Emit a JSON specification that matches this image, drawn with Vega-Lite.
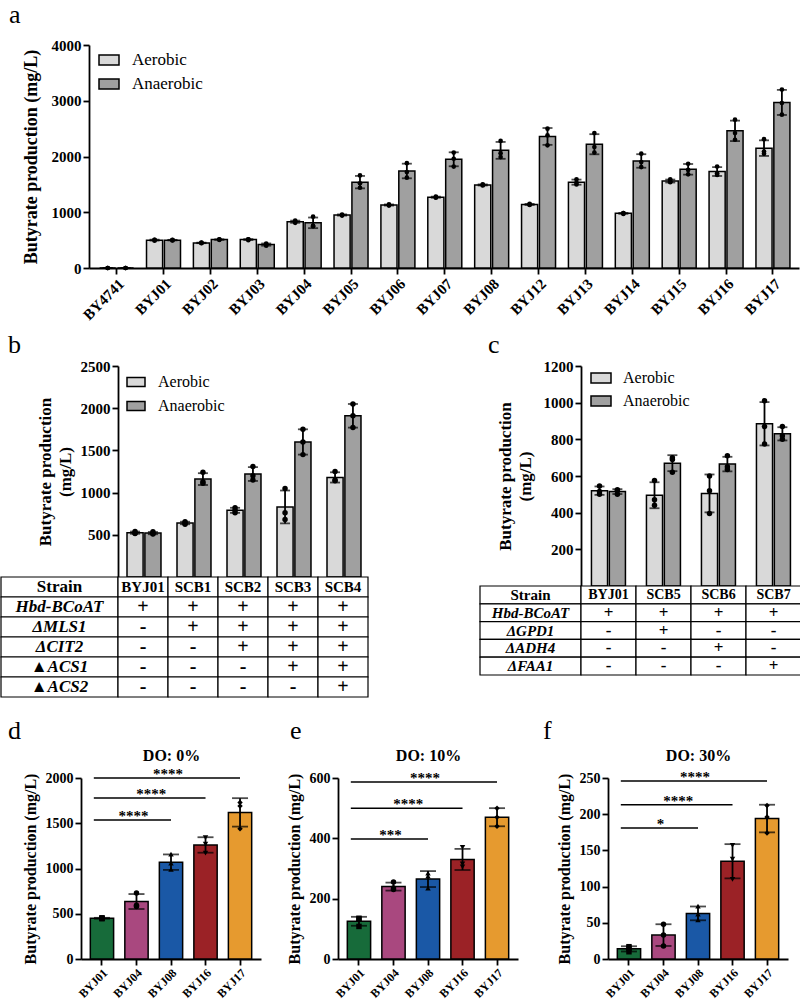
{
  "$schema": "https://vega.github.io/schema/vega-lite/v6.json",
  "background": "white",
  "padding": {"left": 0, "top": 2, "right": 0, "bottom": 0},
  "spacing": 9,
  "resolve": {"scale": {"color": "independent", "shape": "independent"}},
  "config": {
    "font": "Liberation Serif",
    "view": {"stroke": null},
    "axis": {"grid": false, "domainColor": "black", "domainWidth": 1.8, "tickColor": "black", "tickWidth": 1.8, "tickSize": 6, "labelFont": "Liberation Serif", "labelFontWeight": "bold", "labelColor": "black", "labelFontSize": 15, "labelPadding": 2, "titleFont": "Liberation Serif", "titleFontWeight": "bold", "titleColor": "black", "titleFontSize": 17},
    "axisQuantitative": {"format": "d"},
    "legend": {"orient": "none", "symbolType": "M-1,-0.5H1V0.5H-1Z", "symbolStrokeColor": "black", "symbolStrokeWidth": 1.5, "labelFont": "Liberation Serif", "labelColor": "black", "labelFontWeight": "normal", "padding": 0},
    "title": {"font": "Liberation Serif", "fontWeight": "normal", "fontSize": 26, "color": "black", "anchor": "start", "frame": "group"}
  },
  "datasets": {
    "rep": [
      {"p":"a","s":"BY4741","c":"Aerobic","r1":0,"r2":0,"r3":0},
      {"p":"a","s":"BYJ01","c":"Aerobic","r1":490,"r2":505,"r3":505},
      {"p":"a","s":"BYJ02","c":"Aerobic","r1":445,"r2":450,"r3":455},
      {"p":"a","s":"BYJ03","c":"Aerobic","r1":500,"r2":515,"r3":515},
      {"p":"a","s":"BYJ04","c":"Aerobic","r1":810,"r2":830,"r3":850},
      {"p":"a","s":"BYJ05","c":"Aerobic","r1":940,"r2":950,"r3":960},
      {"p":"a","s":"BYJ06","c":"Aerobic","r1":1120,"r2":1130,"r3":1140},
      {"p":"a","s":"BYJ07","c":"Aerobic","r1":1260,"r2":1270,"r3":1280},
      {"p":"a","s":"BYJ08","c":"Aerobic","r1":1480,"r2":1490,"r3":1500},
      {"p":"a","s":"BYJ12","c":"Aerobic","r1":1130,"r2":1140,"r3":1150},
      {"p":"a","s":"BYJ13","c":"Aerobic","r1":1590,"r2":1530,"r3":1500},
      {"p":"a","s":"BYJ14","c":"Aerobic","r1":970,"r2":985,"r3":985},
      {"p":"a","s":"BYJ15","c":"Aerobic","r1":1590,"r2":1550,"r3":1540},
      {"p":"a","s":"BYJ16","c":"Aerobic","r1":1820,"r2":1700,"r3":1670},
      {"p":"a","s":"BYJ17","c":"Aerobic","r1":2310,"r2":2090,"r3":2050},
      {"p":"a","s":"BY4741","c":"Anaerobic","r1":0,"r2":0,"r3":0},
      {"p":"a","s":"BYJ01","c":"Anaerobic","r1":495,"r2":500,"r3":505},
      {"p":"a","s":"BYJ02","c":"Anaerobic","r1":505,"r2":510,"r3":515},
      {"p":"a","s":"BYJ03","c":"Anaerobic","r1":400,"r2":420,"r3":440},
      {"p":"a","s":"BYJ04","c":"Anaerobic","r1":920,"r2":760,"r3":750},
      {"p":"a","s":"BYJ05","c":"Anaerobic","r1":1660,"r2":1520,"r3":1440},
      {"p":"a","s":"BYJ06","c":"Anaerobic","r1":1880,"r2":1720,"r3":1620},
      {"p":"a","s":"BYJ07","c":"Anaerobic","r1":2070,"r2":1960,"r3":1820},
      {"p":"a","s":"BYJ08","c":"Anaerobic","r1":2280,"r2":2060,"r3":1990},
      {"p":"a","s":"BYJ12","c":"Anaerobic","r1":2500,"r2":2380,"r3":2200},
      {"p":"a","s":"BYJ13","c":"Anaerobic","r1":2420,"r2":2170,"r3":2070},
      {"p":"a","s":"BYJ14","c":"Anaerobic","r1":2050,"r2":1900,"r3":1810},
      {"p":"a","s":"BYJ15","c":"Anaerobic","r1":1870,"r2":1760,"r3":1680},
      {"p":"a","s":"BYJ16","c":"Anaerobic","r1":2660,"r2":2420,"r3":2300},
      {"p":"a","s":"BYJ17","c":"Anaerobic","r1":3200,"r2":2960,"r3":2750},
      {"p":"b","s":"BYJ01","c":"Aerobic","r1":540,"r2":520,"r3":515},
      {"p":"b","s":"SCB1","c":"Aerobic","r1":655,"r2":640,"r3":625},
      {"p":"b","s":"SCB2","c":"Aerobic","r1":820,"r2":790,"r3":760},
      {"p":"b","s":"SCB3","c":"Aerobic","r1":1050,"r2":760,"r3":680},
      {"p":"b","s":"SCB4","c":"Aerobic","r1":1250,"r2":1150,"r3":1140},
      {"p":"b","s":"BYJ01","c":"Anaerobic","r1":535,"r2":515,"r3":510},
      {"p":"b","s":"SCB1","c":"Anaerobic","r1":1240,"r2":1130,"r3":1110},
      {"p":"b","s":"SCB2","c":"Anaerobic","r1":1310,"r2":1200,"r3":1150},
      {"p":"b","s":"SCB3","c":"Anaerobic","r1":1750,"r2":1600,"r3":1450},
      {"p":"b","s":"SCB4","c":"Anaerobic","r1":2050,"r2":1910,"r3":1770},
      {"p":"c","s":"BYJ01","c":"Aerobic","r1":545,"r2":515,"r3":500},
      {"p":"c","s":"SCB5","c":"Aerobic","r1":575,"r2":440,"r3":470},
      {"p":"c","s":"SCB6","c":"Aerobic","r1":600,"r2":520,"r3":395},
      {"p":"c","s":"SCB7","c":"Aerobic","r1":1010,"r2":870,"r3":775},
      {"p":"c","s":"BYJ01","c":"Anaerobic","r1":525,"r2":520,"r3":500},
      {"p":"c","s":"SCB5","c":"Anaerobic","r1":700,"r2":690,"r3":620},
      {"p":"c","s":"SCB6","c":"Anaerobic","r1":710,"r2":650,"r3":635},
      {"p":"c","s":"SCB7","c":"Anaerobic","r1":870,"r2":820,"r3":800},
      {"p":"d","s":"BYJ01","c":"DO","r1":455,"r2":450,"r3":445},
      {"p":"d","s":"BYJ04","c":"DO","r1":730,"r2":595,"r3":580},
      {"p":"d","s":"BYJ08","c":"DO","r1":1160,"r2":1060,"r3":990},
      {"p":"d","s":"BYJ16","c":"DO","r1":1340,"r2":1270,"r3":1170},
      {"p":"d","s":"BYJ17","c":"DO","r1":1730,"r2":1690,"r3":1440},
      {"p":"e","s":"BYJ01","c":"DO","r1":135,"r2":132,"r3":108},
      {"p":"e","s":"BYJ04","c":"DO","r1":255,"r2":235,"r3":230},
      {"p":"e","s":"BYJ08","c":"DO","r1":285,"r2":275,"r3":235},
      {"p":"e","s":"BYJ16","c":"DO","r1":370,"r2":315,"r3":305},
      {"p":"e","s":"BYJ17","c":"DO","r1":500,"r2":470,"r3":440},
      {"p":"f","s":"BYJ01","c":"DO","r1":17,"r2":15,"r3":10},
      {"p":"f","s":"BYJ04","c":"DO","r1":48,"r2":33,"r3":18},
      {"p":"f","s":"BYJ08","c":"DO","r1":73,"r2":62,"r3":54},
      {"p":"f","s":"BYJ16","c":"DO","r1":157,"r2":138,"r3":110},
      {"p":"f","s":"BYJ17","c":"DO","r1":212,"r2":196,"r3":174}
    ],
    "tbl": [
      {"p":"b","r":"Strain","k":"BYJ01","t":"BYJ01"},
      {"p":"b","r":"Strain","k":"SCB1","t":"SCB1"},
      {"p":"b","r":"Strain","k":"SCB2","t":"SCB2"},
      {"p":"b","r":"Strain","k":"SCB3","t":"SCB3"},
      {"p":"b","r":"Strain","k":"SCB4","t":"SCB4"},
      {"p":"b","r":"Hbd-BCoAT","k":"BYJ01","t":"+"},
      {"p":"b","r":"Hbd-BCoAT","k":"SCB1","t":"+"},
      {"p":"b","r":"Hbd-BCoAT","k":"SCB2","t":"+"},
      {"p":"b","r":"Hbd-BCoAT","k":"SCB3","t":"+"},
      {"p":"b","r":"Hbd-BCoAT","k":"SCB4","t":"+"},
      {"p":"b","r":"ΔMLS1","k":"BYJ01","t":"-"},
      {"p":"b","r":"ΔMLS1","k":"SCB1","t":"+"},
      {"p":"b","r":"ΔMLS1","k":"SCB2","t":"+"},
      {"p":"b","r":"ΔMLS1","k":"SCB3","t":"+"},
      {"p":"b","r":"ΔMLS1","k":"SCB4","t":"+"},
      {"p":"b","r":"ΔCIT2","k":"BYJ01","t":"-"},
      {"p":"b","r":"ΔCIT2","k":"SCB1","t":"-"},
      {"p":"b","r":"ΔCIT2","k":"SCB2","t":"+"},
      {"p":"b","r":"ΔCIT2","k":"SCB3","t":"+"},
      {"p":"b","r":"ΔCIT2","k":"SCB4","t":"+"},
      {"p":"b","r":"▲ACS1","k":"BYJ01","t":"-"},
      {"p":"b","r":"▲ACS1","k":"SCB1","t":"-"},
      {"p":"b","r":"▲ACS1","k":"SCB2","t":"-"},
      {"p":"b","r":"▲ACS1","k":"SCB3","t":"+"},
      {"p":"b","r":"▲ACS1","k":"SCB4","t":"+"},
      {"p":"b","r":"▲ACS2","k":"BYJ01","t":"-"},
      {"p":"b","r":"▲ACS2","k":"SCB1","t":"-"},
      {"p":"b","r":"▲ACS2","k":"SCB2","t":"-"},
      {"p":"b","r":"▲ACS2","k":"SCB3","t":"-"},
      {"p":"b","r":"▲ACS2","k":"SCB4","t":"+"},
      {"p":"c","r":"Strain","k":"BYJ01","t":"BYJ01"},
      {"p":"c","r":"Strain","k":"SCB5","t":"SCB5"},
      {"p":"c","r":"Strain","k":"SCB6","t":"SCB6"},
      {"p":"c","r":"Strain","k":"SCB7","t":"SCB7"},
      {"p":"c","r":"Hbd-BCoAT","k":"BYJ01","t":"+"},
      {"p":"c","r":"Hbd-BCoAT","k":"SCB5","t":"+"},
      {"p":"c","r":"Hbd-BCoAT","k":"SCB6","t":"+"},
      {"p":"c","r":"Hbd-BCoAT","k":"SCB7","t":"+"},
      {"p":"c","r":"ΔGPD1","k":"BYJ01","t":"-"},
      {"p":"c","r":"ΔGPD1","k":"SCB5","t":"+"},
      {"p":"c","r":"ΔGPD1","k":"SCB6","t":"-"},
      {"p":"c","r":"ΔGPD1","k":"SCB7","t":"-"},
      {"p":"c","r":"ΔADH4","k":"BYJ01","t":"-"},
      {"p":"c","r":"ΔADH4","k":"SCB5","t":"-"},
      {"p":"c","r":"ΔADH4","k":"SCB6","t":"+"},
      {"p":"c","r":"ΔADH4","k":"SCB7","t":"-"},
      {"p":"c","r":"ΔFAA1","k":"BYJ01","t":"-"},
      {"p":"c","r":"ΔFAA1","k":"SCB5","t":"-"},
      {"p":"c","r":"ΔFAA1","k":"SCB6","t":"-"},
      {"p":"c","r":"ΔFAA1","k":"SCB7","t":"+"}
    ],
    "sig": [
      {"p":"d","from":"BYJ01","to":"BYJ17","v":2000,"lab":"****","mid":"BYJ08","at":"c"},
      {"p":"d","from":"BYJ01","to":"BYJ16","v":1780,"lab":"****","mid":"BYJ04","at":"r"},
      {"p":"d","from":"BYJ01","to":"BYJ08","v":1535,"lab":"****","mid":"BYJ04","at":"c"},
      {"p":"e","from":"BYJ01","to":"BYJ17","v":587,"lab":"****","mid":"BYJ08","at":"c"},
      {"p":"e","from":"BYJ01","to":"BYJ16","v":500,"lab":"****","mid":"BYJ04","at":"r"},
      {"p":"e","from":"BYJ01","to":"BYJ08","v":398,"lab":"***","mid":"BYJ04","at":"c"},
      {"p":"f","from":"BYJ01","to":"BYJ17","v":246,"lab":"****","mid":"BYJ08","at":"c"},
      {"p":"f","from":"BYJ01","to":"BYJ16","v":213,"lab":"****","mid":"BYJ04","at":"r"},
      {"p":"f","from":"BYJ01","to":"BYJ08","v":181,"lab":"*","mid":"BYJ04","at":"c"}
    ]
  },
  "vconcat": [
    {
      "spacing": 7,
      "resolve": {"scale": {"color": "independent", "shape": "independent"}},
      "hconcat": [
        {"width": 1, "height": 1, "data": {"values": []}, "mark": {"type": "point", "opacity": 0}},
        {
          "width": 710, "height": 223,
          "title": {"text": "a", "dx": -80, "offset": 10},
          "data": {"name": "rep"},
          "transform": [{"filter": "datum.p === 'a'"}, {"fold": ["r1", "r2", "r3"], "as": ["rep", "v"]}],
          "encoding": {
            "x": {"field": "s", "type": "nominal", "scale": {"domain": ["BY4741","BYJ01","BYJ02","BYJ03","BYJ04","BYJ05","BYJ06","BYJ07","BYJ08","BYJ12","BYJ13","BYJ14","BYJ15","BYJ16","BYJ17"], "paddingInner": 0.275, "paddingOuter": 0.21, "align": 0.54}, "axis": {"title": null, "labelAngle": -45, "labelFontSize": 15}},
            "xOffset": {"field": "c", "type": "nominal", "scale": {"domain": ["Aerobic", "Anaerobic"], "paddingInner": 0.1}},
            "y": {"field": "v", "type": "quantitative", "scale": {"domain": [0, 4000], "nice": false}, "axis": {"title": "Butyrate production (mg/L)", "values": [0, 1000, 2000, 3000, 4000], "titleFontSize": 18, "titlePadding": 11}}
          },
          "layer": [
            {
              "transform": [{"aggregate": [{"op": "mean", "field": "v", "as": "v"}], "groupby": ["s", "c"]}],
              "mark": {"type": "bar", "stroke": "black", "strokeWidth": 1.5},
              "encoding": {
                "color": {"field": "c", "type": "nominal", "scale": {"domain": ["Aerobic", "Anaerobic"], "range": ["#d9d9d9", "#a0a0a0"]}, "legend": {"title": null, "legendX": 9, "legendY": 4, "symbolSize": 400, "labelFontSize": 17, "labelOffset": 12, "rowPadding": 5}}
              }
            },
            {
              "mark": {"type": "errorbar", "extent": "stdev", "ticks": {"size": 10, "thickness": 1.8, "color": "black"}, "rule": {"strokeWidth": 1.8, "color": "black"}},
              "encoding": {"detail": {"field": "c", "type": "nominal"}}
            },
            {"mark": {"type": "point", "filled": true, "size": 22, "color": "black", "opacity": 1}}
          ]
        }
      ]
    },
    {
      "spacing": 20,
      "resolve": {"scale": {"color": "independent", "shape": "independent"}},
      "vconcat": [
        {
          "spacing": 110,
          "resolve": {"scale": {"color": "independent", "shape": "independent"}},
          "hconcat": [
            {
              "columns": 2, "spacing": 0, "bounds": "flush",
              "resolve": {"scale": {"color": "independent"}},
              "concat": [
                {"width": 117, "height": 211, "title": {"text": "b", "dx": 7, "offset": 8}, "data": {"values": []}, "mark": {"type": "point", "opacity": 0}},
                {
                  "width": 250, "height": 211,
                  "data": {"name": "rep"},
                  "transform": [{"filter": "datum.p === 'b'"}, {"fold": ["r1", "r2", "r3"], "as": ["rep", "v"]}],
                  "encoding": {
                    "x": {"field": "s", "type": "nominal", "scale": {"domain": ["BYJ01","SCB1","SCB2","SCB3","SCB4"], "paddingInner": 0.36, "paddingOuter": 0.18}, "axis": null},
                    "xOffset": {"field": "c", "type": "nominal", "scale": {"domain": ["Aerobic", "Anaerobic"], "paddingInner": 0.1}},
                    "y": {"field": "v", "type": "quantitative", "scale": {"domain": [0, 2500], "nice": false}, "axis": {"title": ["Butyrate production", "(mg/L)"], "values": [500, 1000, 1500, 2000, 2500], "titlePadding": 6, "titleLineHeight": 20}}
                  },
                  "layer": [
                    {
                      "transform": [{"aggregate": [{"op": "mean", "field": "v", "as": "v"}], "groupby": ["s", "c"]}],
                      "mark": {"type": "bar", "stroke": "black", "strokeWidth": 1.5},
                      "encoding": {
                        "color": {"field": "c", "type": "nominal", "scale": {"domain": ["Aerobic", "Anaerobic"], "range": ["#d9d9d9", "#a0a0a0"]}, "legend": {"title": null, "legendX": 8, "legendY": 6, "symbolSize": 324, "labelFontSize": 16, "labelOffset": 12, "rowPadding": 6}}
                      }
                    },
                    {
                      "mark": {"type": "errorbar", "extent": "stdev", "ticks": {"size": 10, "thickness": 1.8, "color": "black"}, "rule": {"strokeWidth": 1.8, "color": "black"}},
                      "encoding": {"detail": {"field": "c", "type": "nominal"}}
                    },
                    {"mark": {"type": "point", "filled": true, "size": 30, "color": "black", "opacity": 1}}
                  ]
                },
                {
                  "width": 117, "height": 120,
                  "data": {"name": "tbl"},
                  "transform": [{"filter": "datum.p === 'b' && datum.k === 'BYJ01'"}],
                  "encoding": {"y": {"field": "r", "type": "nominal", "scale": {"domain": ["Strain","Hbd-BCoAT","ΔMLS1","ΔCIT2","▲ACS1","▲ACS2"], "paddingInner": 0, "paddingOuter": 0}, "axis": null}},
                  "layer": [
                    {"mark": {"type": "rect", "fill": "white", "stroke": "black", "strokeWidth": 1.2}},
                    {"transform": [{"filter": "datum.r === 'Strain'"}], "mark": {"type": "text", "fontWeight": "bold", "fontSize": 17, "color": "black"}, "encoding": {"text": {"field": "r"}}},
                    {"transform": [{"filter": "datum.r !== 'Strain'"}], "mark": {"type": "text", "fontWeight": "bold", "fontStyle": "italic", "fontSize": 17, "color": "black"}, "encoding": {"text": {"field": "r"}}}
                  ]
                },
                {
                  "width": 250, "height": 120,
                  "data": {"name": "tbl"},
                  "transform": [{"filter": "datum.p === 'b'"}],
                  "encoding": {
                    "x": {"field": "k", "type": "nominal", "scale": {"domain": ["BYJ01","SCB1","SCB2","SCB3","SCB4"], "paddingInner": 0, "paddingOuter": 0}, "axis": null},
                    "y": {"field": "r", "type": "nominal", "scale": {"domain": ["Strain","Hbd-BCoAT","ΔMLS1","ΔCIT2","▲ACS1","▲ACS2"], "paddingInner": 0, "paddingOuter": 0}, "axis": null}
                  },
                  "layer": [
                    {"mark": {"type": "rect", "fill": "white", "stroke": "black", "strokeWidth": 1.2}},
                    {"transform": [{"filter": "datum.r === 'Strain'"}], "mark": {"type": "text", "fontWeight": "bold", "fontSize": 15, "color": "black"}, "encoding": {"text": {"field": "t"}}},
                    {"transform": [{"filter": "datum.r !== 'Strain'"}], "mark": {"type": "text", "fontWeight": "bold", "fontSize": 20, "color": "black"}, "encoding": {"text": {"field": "t"}}}
                  ]
                }
              ]
            },
            {
              "columns": 2, "spacing": 0, "bounds": "flush",
              "resolve": {"scale": {"color": "independent"}},
              "concat": [
                {"width": 101, "height": 220, "title": {"text": "c", "dx": 8, "offset": 8}, "data": {"values": []}, "mark": {"type": "point", "opacity": 0}},
                {
                  "width": 220, "height": 220,
                  "data": {"name": "rep"},
                  "transform": [{"filter": "datum.p === 'c'"}, {"fold": ["r1", "r2", "r3"], "as": ["rep", "v"]}],
                  "encoding": {
                    "x": {"field": "s", "type": "nominal", "scale": {"domain": ["BYJ01","SCB5","SCB6","SCB7"], "paddingInner": 0.38, "paddingOuter": 0.19}, "axis": null},
                    "xOffset": {"field": "c", "type": "nominal", "scale": {"domain": ["Aerobic", "Anaerobic"], "paddingInner": 0.1}},
                    "y": {"field": "v", "type": "quantitative", "scale": {"domain": [0, 1200], "nice": false}, "axis": {"title": ["Butyrate production", "(mg/L)"], "values": [200, 400, 600, 800, 1000, 1200], "titlePadding": 9, "titleLineHeight": 20}}
                  },
                  "layer": [
                    {
                      "transform": [{"aggregate": [{"op": "mean", "field": "v", "as": "v"}], "groupby": ["s", "c"]}],
                      "mark": {"type": "bar", "stroke": "black", "strokeWidth": 1.5},
                      "encoding": {
                        "color": {"field": "c", "type": "nominal", "scale": {"domain": ["Aerobic", "Anaerobic"], "range": ["#d9d9d9", "#a0a0a0"]}, "legend": {"title": null, "legendX": 9, "legendY": 1, "symbolSize": 400, "labelFontSize": 16, "labelOffset": 11, "rowPadding": 4}}
                      }
                    },
                    {
                      "mark": {"type": "errorbar", "extent": "stdev", "ticks": {"size": 10, "thickness": 1.8, "color": "black"}, "rule": {"strokeWidth": 1.8, "color": "black"}},
                      "encoding": {"detail": {"field": "c", "type": "nominal"}}
                    },
                    {"mark": {"type": "point", "filled": true, "size": 30, "color": "black", "opacity": 1}}
                  ]
                },
                {
                  "width": 101, "height": 89,
                  "data": {"name": "tbl"},
                  "transform": [{"filter": "datum.p === 'c' && datum.k === 'BYJ01'"}],
                  "encoding": {"y": {"field": "r", "type": "nominal", "scale": {"domain": ["Strain","Hbd-BCoAT","ΔGPD1","ΔADH4","ΔFAA1"], "paddingInner": 0, "paddingOuter": 0}, "axis": null}},
                  "layer": [
                    {"mark": {"type": "rect", "fill": "white", "stroke": "black", "strokeWidth": 1.2}},
                    {"transform": [{"filter": "datum.r === 'Strain'"}], "mark": {"type": "text", "fontWeight": "bold", "fontSize": 15, "color": "black"}, "encoding": {"text": {"field": "r"}}},
                    {"transform": [{"filter": "datum.r !== 'Strain'"}], "mark": {"type": "text", "fontWeight": "bold", "fontStyle": "italic", "fontSize": 15, "color": "black"}, "encoding": {"text": {"field": "r"}}}
                  ]
                },
                {
                  "width": 220, "height": 89,
                  "data": {"name": "tbl"},
                  "transform": [{"filter": "datum.p === 'c'"}],
                  "encoding": {
                    "x": {"field": "k", "type": "nominal", "scale": {"domain": ["BYJ01","SCB5","SCB6","SCB7"], "paddingInner": 0, "paddingOuter": 0}, "axis": null},
                    "y": {"field": "r", "type": "nominal", "scale": {"domain": ["Strain","Hbd-BCoAT","ΔGPD1","ΔADH4","ΔFAA1"], "paddingInner": 0, "paddingOuter": 0}, "axis": null}
                  },
                  "layer": [
                    {"mark": {"type": "rect", "fill": "white", "stroke": "black", "strokeWidth": 1.2}},
                    {"transform": [{"filter": "datum.r === 'Strain'"}], "mark": {"type": "text", "fontWeight": "bold", "fontSize": 14, "color": "black"}, "encoding": {"text": {"field": "t"}}},
                    {"transform": [{"filter": "datum.r !== 'Strain'"}], "mark": {"type": "text", "fontWeight": "bold", "fontSize": 17, "color": "black"}, "encoding": {"text": {"field": "t"}}}
                  ]
                }
              ]
            }
          ]
        },
        {
          "spacing": 6,
          "resolve": {"scale": {"color": "independent", "shape": "independent"}},
          "hconcat": [
            {"width": 1, "height": 1, "data": {"values": []}, "mark": {"type": "point", "opacity": 0}},
            {
              "spacing": 25,
              "resolve": {"scale": {"color": "independent", "shape": "independent"}},
              "hconcat": [
                {
                  "width": 180, "height": 181,
                  "title": {"text": "d", "dx": -73, "offset": 3},
                  "encoding": {
                    "y": {"field": "v", "type": "quantitative", "scale": {"domain": [0, 2000], "nice": false}, "axis": {"title": "Butyrate production (mg/L)", "values": [0, 500, 1000, 1500, 2000], "labelFontSize": 14, "titleFontSize": 16, "titlePadding": 7}}
                  },
                  "layer": [
                    {
                      "data": {"name": "rep"},
                      "transform": [{"filter": "datum.p === 'd'"}, {"fold": ["r1", "r2", "r3"], "as": ["rep", "v"]}, {"aggregate": [{"op": "mean", "field": "v", "as": "v"}], "groupby": ["s"]}],
                      "mark": {"type": "bar", "stroke": "black", "strokeWidth": 1.5},
                      "encoding": {
                        "x": {"field": "s", "type": "nominal", "scale": {"domain": ["BYJ01","BYJ04","BYJ08","BYJ16","BYJ17"], "paddingInner": 0.325, "paddingOuter": 0.27}, "axis": {"title": null, "labelAngle": -45, "labelFontSize": 12}},
                        "color": {"field": "s", "type": "nominal", "scale": {"domain": ["BYJ01","BYJ04","BYJ08","BYJ16","BYJ17"], "range": ["#176b3a", "#a9487f", "#1a58a6", "#9b2226", "#e69a2f"]}, "legend": null}
                      }
                    },
                    {
                      "data": {"name": "rep"},
                      "transform": [{"filter": "datum.p === 'd'"}, {"fold": ["r1", "r2", "r3"], "as": ["rep", "v"]}],
                      "mark": {"type": "errorbar", "extent": "stdev", "ticks": {"size": 16, "thickness": 1.8, "color": "black"}, "rule": {"strokeWidth": 1.8, "color": "black"}},
                      "encoding": {"x": {"field": "s", "type": "nominal", "axis": null}}
                    },
                    {
                      "data": {"name": "rep"},
                      "transform": [{"filter": "datum.p === 'd'"}, {"fold": ["r1", "r2", "r3"], "as": ["rep", "v"]}],
                      "mark": {"type": "point", "filled": true, "size": 30, "color": "black", "opacity": 1},
                      "encoding": {
                        "x": {"field": "s", "type": "nominal", "axis": null},
                        "shape": {"field": "s", "type": "nominal", "scale": {"domain": ["BYJ01","BYJ04","BYJ08","BYJ16","BYJ17"], "range": ["square", "circle", "triangle-up", "triangle-down", "diamond"]}, "legend": null}
                      }
                    },
                    {
                      "data": {"name": "sig"},
                      "transform": [{"filter": "datum.p === 'd'"}],
                      "mark": {"type": "rule", "strokeWidth": 1.5, "color": "black"},
                      "encoding": {
                        "x": {"field": "from", "type": "nominal", "bandPosition": 0.15, "axis": {"orient": "top", "title": "DO: 0%", "labels": false, "ticks": false, "domain": false, "titleFontSize": 16, "titleY": -18, "titleBaseline": "alphabetic"}},
                        "x2": {"field": "to"}
                      }
                    },
                    {
                      "data": {"name": "sig"},
                      "transform": [{"filter": "datum.p === 'd' && datum.at === 'c'"}],
                      "mark": {"type": "text", "fontWeight": "bold", "fontSize": 15, "baseline": "alphabetic", "dy": 1, "dx": -3, "color": "black"},
                      "encoding": {"x": {"field": "mid", "type": "nominal", "axis": null}, "text": {"field": "lab"}}
                    },
                    {
                      "data": {"name": "sig"},
                      "transform": [{"filter": "datum.p === 'd' && datum.at === 'r'"}],
                      "mark": {"type": "text", "fontWeight": "bold", "fontSize": 15, "baseline": "alphabetic", "dy": 1, "dx": 3, "color": "black"},
                      "encoding": {"x": {"field": "mid", "type": "nominal", "bandPosition": 1, "axis": null}, "text": {"field": "lab"}}
                    }
                  ],
                  "resolve": {"axis": {"x": "independent"}}
                },
                {
                  "width": 180, "height": 181,
                  "title": {"text": "e", "dx": -48, "offset": 3},
                  "encoding": {
                    "y": {"field": "v", "type": "quantitative", "scale": {"domain": [0, 600], "nice": false}, "axis": {"title": "Butyrate production (mg/L)", "values": [0, 200, 400, 600], "labelFontSize": 14, "titleFontSize": 16, "titlePadding": 7}}
                  },
                  "layer": [
                    {
                      "data": {"name": "rep"},
                      "transform": [{"filter": "datum.p === 'e'"}, {"fold": ["r1", "r2", "r3"], "as": ["rep", "v"]}, {"aggregate": [{"op": "mean", "field": "v", "as": "v"}], "groupby": ["s"]}],
                      "mark": {"type": "bar", "stroke": "black", "strokeWidth": 1.5},
                      "encoding": {
                        "x": {"field": "s", "type": "nominal", "scale": {"domain": ["BYJ01","BYJ04","BYJ08","BYJ16","BYJ17"], "paddingInner": 0.325, "paddingOuter": 0.27}, "axis": {"title": null, "labelAngle": -45, "labelFontSize": 12}},
                        "color": {"field": "s", "type": "nominal", "scale": {"domain": ["BYJ01","BYJ04","BYJ08","BYJ16","BYJ17"], "range": ["#176b3a", "#a9487f", "#1a58a6", "#9b2226", "#e69a2f"]}, "legend": null}
                      }
                    },
                    {
                      "data": {"name": "rep"},
                      "transform": [{"filter": "datum.p === 'e'"}, {"fold": ["r1", "r2", "r3"], "as": ["rep", "v"]}],
                      "mark": {"type": "errorbar", "extent": "stdev", "ticks": {"size": 16, "thickness": 1.8, "color": "black"}, "rule": {"strokeWidth": 1.8, "color": "black"}},
                      "encoding": {"x": {"field": "s", "type": "nominal", "axis": null}}
                    },
                    {
                      "data": {"name": "rep"},
                      "transform": [{"filter": "datum.p === 'e'"}, {"fold": ["r1", "r2", "r3"], "as": ["rep", "v"]}],
                      "mark": {"type": "point", "filled": true, "size": 30, "color": "black", "opacity": 1},
                      "encoding": {
                        "x": {"field": "s", "type": "nominal", "axis": null},
                        "shape": {"field": "s", "type": "nominal", "scale": {"domain": ["BYJ01","BYJ04","BYJ08","BYJ16","BYJ17"], "range": ["square", "circle", "triangle-up", "triangle-down", "diamond"]}, "legend": null}
                      }
                    },
                    {
                      "data": {"name": "sig"},
                      "transform": [{"filter": "datum.p === 'e'"}],
                      "mark": {"type": "rule", "strokeWidth": 1.5, "color": "black"},
                      "encoding": {
                        "x": {"field": "from", "type": "nominal", "bandPosition": 0.15, "axis": {"orient": "top", "title": "DO: 10%", "labels": false, "ticks": false, "domain": false, "titleFontSize": 16, "titleY": -18, "titleBaseline": "alphabetic"}},
                        "x2": {"field": "to"}
                      }
                    },
                    {
                      "data": {"name": "sig"},
                      "transform": [{"filter": "datum.p === 'e' && datum.at === 'c'"}],
                      "mark": {"type": "text", "fontWeight": "bold", "fontSize": 15, "baseline": "alphabetic", "dy": 1, "dx": -3, "color": "black"},
                      "encoding": {"x": {"field": "mid", "type": "nominal", "axis": null}, "text": {"field": "lab"}}
                    },
                    {
                      "data": {"name": "sig"},
                      "transform": [{"filter": "datum.p === 'e' && datum.at === 'r'"}],
                      "mark": {"type": "text", "fontWeight": "bold", "fontSize": 15, "baseline": "alphabetic", "dy": 1, "dx": 3, "color": "black"},
                      "encoding": {"x": {"field": "mid", "type": "nominal", "bandPosition": 1, "axis": null}, "text": {"field": "lab"}}
                    }
                  ],
                  "resolve": {"axis": {"x": "independent"}}
                },
                {
                  "width": 180, "height": 181,
                  "title": {"text": "f", "dx": -65, "offset": 3},
                  "encoding": {
                    "y": {"field": "v", "type": "quantitative", "scale": {"domain": [0, 250], "nice": false}, "axis": {"title": "Butyrate production (mg/L)", "values": [0, 50, 100, 150, 200, 250], "labelFontSize": 14, "titleFontSize": 16, "titlePadding": 7}}
                  },
                  "layer": [
                    {
                      "data": {"name": "rep"},
                      "transform": [{"filter": "datum.p === 'f'"}, {"fold": ["r1", "r2", "r3"], "as": ["rep", "v"]}, {"aggregate": [{"op": "mean", "field": "v", "as": "v"}], "groupby": ["s"]}],
                      "mark": {"type": "bar", "stroke": "black", "strokeWidth": 1.5},
                      "encoding": {
                        "x": {"field": "s", "type": "nominal", "scale": {"domain": ["BYJ01","BYJ04","BYJ08","BYJ16","BYJ17"], "paddingInner": 0.325, "paddingOuter": 0.27}, "axis": {"title": null, "labelAngle": -45, "labelFontSize": 12}},
                        "color": {"field": "s", "type": "nominal", "scale": {"domain": ["BYJ01","BYJ04","BYJ08","BYJ16","BYJ17"], "range": ["#176b3a", "#a9487f", "#1a58a6", "#9b2226", "#e69a2f"]}, "legend": null}
                      }
                    },
                    {
                      "data": {"name": "rep"},
                      "transform": [{"filter": "datum.p === 'f'"}, {"fold": ["r1", "r2", "r3"], "as": ["rep", "v"]}],
                      "mark": {"type": "errorbar", "extent": "stdev", "ticks": {"size": 16, "thickness": 1.8, "color": "black"}, "rule": {"strokeWidth": 1.8, "color": "black"}},
                      "encoding": {"x": {"field": "s", "type": "nominal", "axis": null}}
                    },
                    {
                      "data": {"name": "rep"},
                      "transform": [{"filter": "datum.p === 'f'"}, {"fold": ["r1", "r2", "r3"], "as": ["rep", "v"]}],
                      "mark": {"type": "point", "filled": true, "size": 30, "color": "black", "opacity": 1},
                      "encoding": {
                        "x": {"field": "s", "type": "nominal", "axis": null},
                        "shape": {"field": "s", "type": "nominal", "scale": {"domain": ["BYJ01","BYJ04","BYJ08","BYJ16","BYJ17"], "range": ["square", "circle", "triangle-up", "triangle-down", "diamond"]}, "legend": null}
                      }
                    },
                    {
                      "data": {"name": "sig"},
                      "transform": [{"filter": "datum.p === 'f'"}],
                      "mark": {"type": "rule", "strokeWidth": 1.5, "color": "black"},
                      "encoding": {
                        "x": {"field": "from", "type": "nominal", "bandPosition": 0.15, "axis": {"orient": "top", "title": "DO: 30%", "labels": false, "ticks": false, "domain": false, "titleFontSize": 16, "titleY": -18, "titleBaseline": "alphabetic"}},
                        "x2": {"field": "to"}
                      }
                    },
                    {
                      "data": {"name": "sig"},
                      "transform": [{"filter": "datum.p === 'f' && datum.at === 'c'"}],
                      "mark": {"type": "text", "fontWeight": "bold", "fontSize": 15, "baseline": "alphabetic", "dy": 1, "dx": -3, "color": "black"},
                      "encoding": {"x": {"field": "mid", "type": "nominal", "axis": null}, "text": {"field": "lab"}}
                    },
                    {
                      "data": {"name": "sig"},
                      "transform": [{"filter": "datum.p === 'f' && datum.at === 'r'"}],
                      "mark": {"type": "text", "fontWeight": "bold", "fontSize": 15, "baseline": "alphabetic", "dy": 1, "dx": 3, "color": "black"},
                      "encoding": {"x": {"field": "mid", "type": "nominal", "bandPosition": 1, "axis": null}, "text": {"field": "lab"}}
                    }
                  ],
                  "resolve": {"axis": {"x": "independent"}}
                }
              ]
            }
          ]
        }
      ]
    }
  ]
}
